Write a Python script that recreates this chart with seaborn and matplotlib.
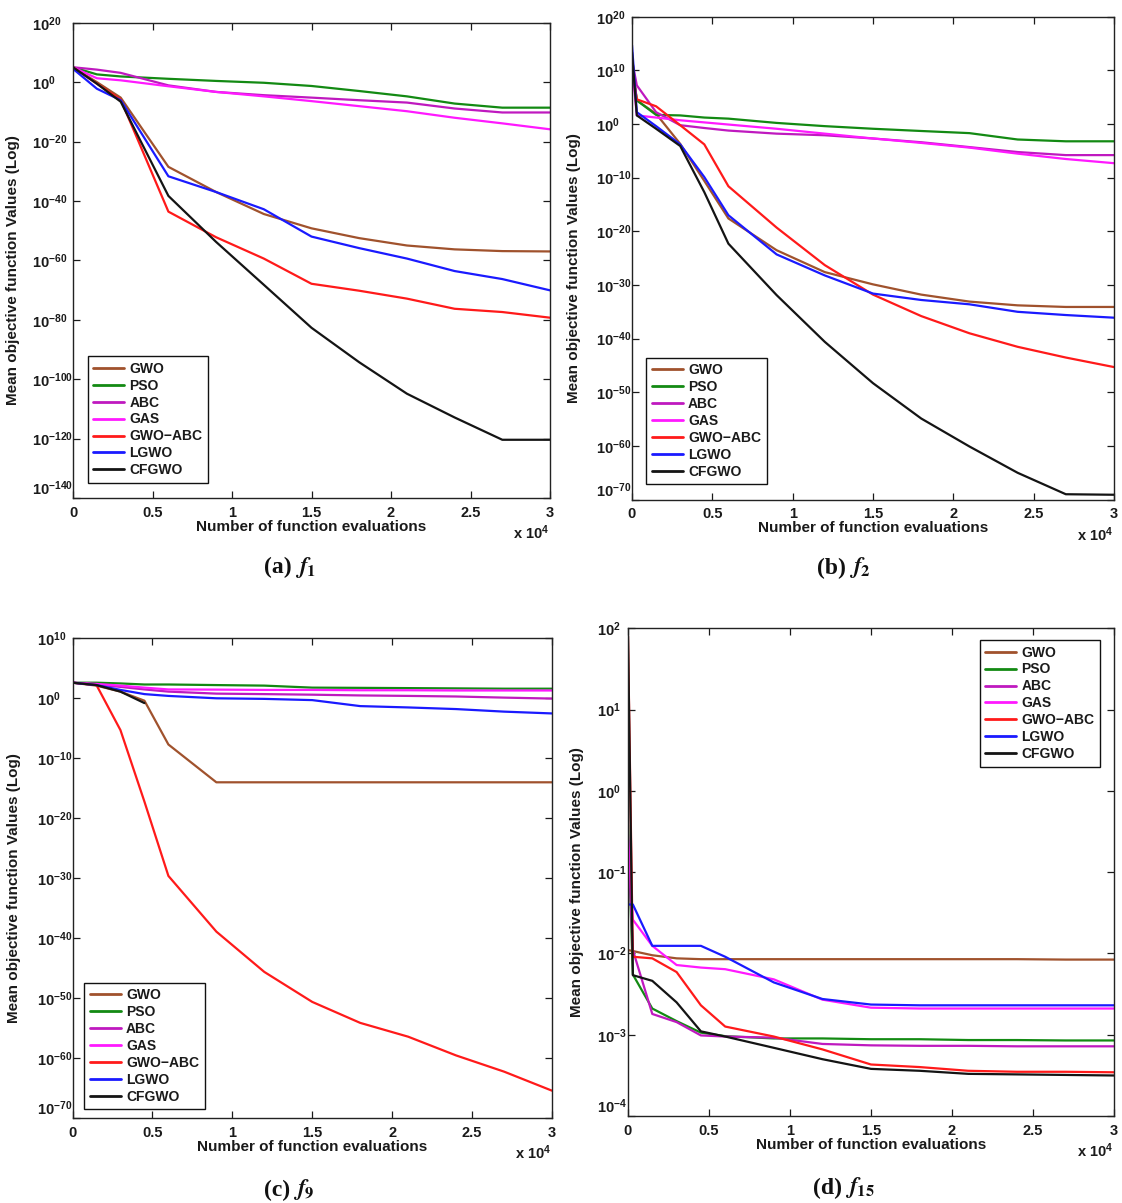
import numpy as np
import pandas as pd
import matplotlib
matplotlib.use("Agg")
import matplotlib.pyplot as plt
from matplotlib.ticker import FixedLocator, FuncFormatter, NullLocator
import seaborn as sns

# ---------------------------------------------------------------- data
METHODS = ["GWO", "PSO", "ABC", "GAS", "GWO\u2212ABC", "LGWO", "CFGWO"]
COLORS = ["#a0522d", "#138a13", "#bf19bf", "#ff19ff", "#ff1a1a", "#1a1aff", "#141414"]

# (a) f1
x_a = [0, 1500, 3000, 6000, 9000, 12000, 15000, 18000, 21000, 24000, 27000, 30000]
a_gwo = [1e5, 1e0, 6e-6, 3e-29, 1e-37, 4e-45, 6e-50, 3e-53, 1e-55, 5e-57, 1.3e-57, 1e-57]
a_pso = [1e5, 4e2, 8e1, 1.3e1, 2.5, 6e-1, 5e-2, 1e-3, 1.6e-5, 6e-8, 2.5e-9, 2.5e-9]
a_abc = [1e5, 1.6e4, 1.3e3, 8e-2, 5e-4, 4e-5, 6e-6, 8e-7, 1.3e-7, 1.3e-9, 6e-11, 6e-11]
a_gas = [1e5, 2e1, 4e0, 4e-2, 5e-4, 1.6e-5, 4e-7, 8e-9, 1.6e-10, 1e-12, 1.3e-14, 1.3e-16]
a_gwoabc = [1e5, 3e-1, 1.3e-6, 2.5e-44, 6e-53, 4e-60, 1.3e-68, 6e-71, 1.3e-73, 5e-77, 4e-78, 5e-80]
a_lgwo = [3e4, 6e-3, 8e-7, 2e-32, 1e-37, 1.6e-43, 1e-52, 1.3e-56, 4e-60, 2.5e-64, 5e-67, 8e-71]
a_cfgwo = [1e5, 3e-1, 2.5e-7, 5e-39, 1.6e-54, 6e-69, 2e-83, 5e-95, 1.3e-105, 1.3e-113, 4e-121, 4e-121]

# (b) f2
x_b = [0, 300, 1500, 3000, 4500, 6000, 9000, 12000, 15000, 18000, 21000, 24000, 27000, 30000]
b_gwo = [1e11, 2.5e4, 8e1, 2e-4, 2.5e-11, 2.5e-18, 3e-24, 2.5e-28, 1.3e-30, 1.6e-32, 8e-34, 1.6e-34, 8e-35, 8e-35]
b_pso = [1e11, 2.5e4, 5e1, 4e1, 1.6e1, 1e1, 1.6e0, 4e-1, 1.3e-1, 5e-2, 2e-2, 1.3e-3, 6e-4, 6e-4]
b_abc = [8e11, 1.6e7, 1.6e2, 6e-1, 1.8e-1, 6e-2, 1.6e-2, 8e-3, 2e-3, 4e-4, 5e-5, 6e-6, 1.6e-6, 1.6e-6]
b_gas = [1e11, 4e1, 1.6e1, 5e0, 2e0, 8e-1, 1.3e-1, 1.6e-2, 2e-3, 3e-4, 4e-5, 3e-6, 3e-7, 5e-8]
b_gwoabc = [1e11, 4e4, 2e3, 6e-1, 1.6e-4, 2.5e-12, 5e-20, 5e-27, 1.6e-32, 1.6e-36, 1e-39, 3e-42, 3e-44, 5e-46]
b_lgwo = [5e14, 1.6e2, 4e-1, 1.6e-4, 1.3e-10, 1e-17, 5e-25, 6e-29, 2.5e-32, 1.6e-33, 2.5e-34, 1e-35, 2.5e-36, 8e-37]
b_cfgwo = [2.5e13, 4e1, 1.3e-1, 8e-5, 2e-13, 5e-23, 1.3e-32, 2.5e-41, 5e-49, 1.3e-55, 8e-61, 1e-65, 1e-69, 8e-70]

# (c) f9  (CFGWO reaches zero after 4500 evaluations)
x_c = [0, 1500, 3000, 4500, 6000, 9000, 12000, 15000, 18000, 21000, 24000, 27000, 30000]
c_gwo = [4e2, 1.3e2, 1.3e1, 4e-1, 2e-8, 1e-14, 1e-14, 1e-14, 1e-14, 1e-14, 1e-14, 1e-14, 1e-14]
c_pso = [4e2, 4e2, 3e2, 2e2, 2e2, 1.6e2, 1.3e2, 6e1, 5.5e1, 5e1, 4.5e1, 4e1, 4e1]
c_abc = [4e2, 2e2, 8e1, 3e1, 1.3e1, 6e0, 5e0, 4e0, 3e0, 2.5e0, 2e0, 1.3e0, 9e-1]
c_gas = [4e2, 2.5e2, 1.3e2, 6e1, 3e1, 2.8e1, 2.5e1, 2.5e1, 2.2e1, 2.2e1, 2e1, 2e1, 2e1]
c_gwoabc = [4e2, 1.6e2, 5e-6, 6e-18, 2.5e-30, 1.3e-39, 2.5e-46, 2.5e-51, 8e-55, 4e-57, 3e-60, 6e-63, 4e-66]
c_lgwo = [4e2, 1.6e2, 2.5e1, 5e0, 2.5e0, 1e0, 8e-1, 5e-1, 5e-2, 3e-2, 1.6e-2, 6e-3, 3e-3]
c_cfgwo = [4e2, 1.6e2, 1.3e1, 1.6e-1]

# (d) f15
x_d = [0, 300, 1500, 3000, 4500, 6000, 9000, 12000, 15000, 18000, 21000, 24000, 27000, 30000]
d_gwo = [1.1e-2, 1.07e-2, 9.5e-3, 8.7e-3, 8.5e-3, 8.5e-3, 8.5e-3, 8.5e-3, 8.5e-3, 8.5e-3, 8.5e-3, 8.5e-3, 8.4e-3, 8.4e-3]
d_pso = [3.8e-1, 5.5e-3, 2.1e-3, 1.47e-3, 1.06e-3, 9.6e-4, 9e-4, 9e-4, 8.8e-4, 8.8e-4, 8.6e-4, 8.6e-4, 8.5e-4, 8.5e-4]
d_abc = [2.5e-1, 1.1e-2, 1.8e-3, 1.43e-3, 9.8e-4, 9.5e-4, 9.2e-4, 7.7e-4, 7.4e-4, 7.3e-4, 7.3e-4, 7.2e-4, 7.2e-4, 7.2e-4]
d_gas = [2.9e-1, 2.6e-2, 1.24e-2, 7.2e-3, 6.7e-3, 6.4e-3, 4.8e-3, 2.7e-3, 2.15e-3, 2.1e-3, 2.1e-3, 2.1e-3, 2.1e-3, 2.1e-3]
d_gwoabc = [8e1, 9.1e-3, 8.7e-3, 5.9e-3, 2.3e-3, 1.26e-3, 9.5e-4, 6.6e-4, 4.3e-4, 4e-4, 3.6e-4, 3.5e-4, 3.5e-4, 3.45e-4]
d_lgwo = [4e-2, 4e-2, 1.24e-2, 1.24e-2, 1.24e-2, 9.1e-3, 4.4e-3, 2.75e-3, 2.35e-3, 2.3e-3, 2.3e-3, 2.3e-3, 2.3e-3, 2.3e-3]
d_cfgwo = [8e1, 5.4e-3, 4.6e-3, 2.5e-3, 1.1e-3, 9.5e-4, 6.9e-4, 5e-4, 3.8e-4, 3.6e-4, 3.3e-4, 3.25e-4, 3.2e-4, 3.15e-4]

X_TICKS = [0, 5000, 10000, 15000, 20000, 25000, 30000]
X_TICK_LABELS = ["0", "0.5", "1", "1.5", "2", "2.5", "3"]

# ---------------------------------------------------------------- style
sns.set_style("ticks")
plt.rcParams["font.family"] = ["Liberation Sans", "DejaVu Sans"]
plt.rcParams["font.weight"] = "bold"
plt.rcParams["mathtext.fontset"] = "custom"
plt.rcParams["mathtext.rm"] = "Liberation Sans:bold"
plt.rcParams["mathtext.bf"] = "Liberation Sans:bold"
plt.rcParams["mathtext.it"] = "Liberation Sans:italic:bold"
plt.rcParams["axes.unicode_minus"] = True
TEXT = "#1a1a1a"

W, H = 1122, 1203
fig = plt.figure(figsize=(W / 100, H / 100), dpi=100)
fig.patch.set_facecolor("white")


def box(l, t, r, b):
    return [l / W, 1 - b / H, (r - l) / W, (b - t) / H]


def draw(rect, x, series, exps, legend_loc, legend_anchor, ylab_x, ypad, tag, sub, cap_xy):
    ax = fig.add_axes(rect)
    frames = []
    for name, vals in zip(METHODS, series):
        frames.append(pd.DataFrame({"evals": x[:len(vals)], "value": vals, "method": name}))
    df = pd.concat(frames, ignore_index=True)
    sns.lineplot(data=df, x="evals", y="value", hue="method", hue_order=METHODS,
                 palette=COLORS, estimator=None, sort=False, linewidth=1.6, ax=ax)
    ax.set_yscale("log")
    ax.set_xlim(0, 30000)
    ax.set_ylim(10.0 ** exps[0], 10.0 ** exps[-1])
    ax.yaxis.set_major_locator(FixedLocator([10.0 ** e for e in exps]))
    ax.yaxis.set_minor_locator(NullLocator())
    ax.yaxis.set_major_formatter(FuncFormatter(
        lambda v, p: r"$\mathbf{10^{%d}}$" % int(round(np.log10(v)))))
    ax.set_xticks(X_TICKS)
    ax.set_xticklabels(X_TICK_LABELS, fontweight="bold")
    ax.tick_params(axis="both", direction="in", top=True, right=True, length=5,
                   width=0.9, labelsize=10.5, colors=TEXT)
    ax.tick_params(axis="y", pad=ypad)
    for lab in ax.get_yticklabels():
        lab.set_horizontalalignment("left")
    # lowest decade label sits a touch higher so it clears the "0" below it
    ax.get_yticklabels()[0].set_verticalalignment("bottom")
    ax.tick_params(axis="x", pad=5.5)
    for s in ax.spines.values():
        s.set_visible(True)
        s.set_linewidth(1.0)
        s.set_color("#222222")
    ax.set_facecolor("white")
    ax.set_xlabel("Number of function evaluations", fontsize=11, fontweight="bold",
                  color=TEXT, labelpad=0)
    ax.set_ylabel("Mean objective function Values (Log)", fontsize=11,
                  fontweight="bold", color=TEXT)
    ax.yaxis.set_label_coords(ylab_x, 0.48)
    ax.annotate(r"$\mathbf{x\ 10^{4}}$", xy=(1.0, 0.0), xycoords="axes fraction",
                xytext=(0, -25), textcoords="offset points", ha="right", va="center",
                fontsize=10.5, color=TEXT)
    handles, labels = ax.get_legend_handles_labels()
    leg = ax.legend(handles, labels, loc=legend_loc, bbox_to_anchor=legend_anchor,
                    borderaxespad=0, frameon=True, fancybox=False, framealpha=1,
                    edgecolor="#111111", fontsize=10, handlelength=2.2,
                    handletextpad=0.4, labelspacing=0.21, borderpad=0.4)
    leg.get_frame().set_linewidth(1.0)
    for ln in leg.get_lines():
        ln.set_linewidth(2.0)
    for t in leg.get_texts():
        t.set_fontweight("bold")
        t.set_color(TEXT)
    # panel caption: bold tag followed by the italic function name
    cx, cy = cap_xy[0] / W, 1 - cap_xy[1] / H
    fig.text(cx - 0.001, cy, tag, fontsize=17, ha="right", va="center",
             family="Liberation Serif", fontweight="bold", color="#111111")
    fig.text(cx + 0.002, cy, r"$f_{%s}$" % sub, fontsize=17, ha="left", va="center",
             math_fontfamily="stix", fontweight="normal", color="#111111")
    return ax


draw(box(73, 22.7, 550, 498), x_a,
     [a_gwo, a_pso, a_abc, a_gas, a_gwoabc, a_lgwo, a_cfgwo],
     list(range(-140, 21, 20)), "lower left", (0.031, 0.032), -0.112, 29.5,
     "(a)", "1", (293, 567))

draw(box(632, 16.7, 1114, 499.6), x_b,
     [b_gwo, b_pso, b_abc, b_gas, b_gwoabc, b_lgwo, b_cfgwo],
     list(range(-70, 21, 10)), "lower left", (0.030, 0.032), -0.105, 26,
     "(b)", "2", (847, 568))

draw(box(72.5, 638.3, 552, 1118.3), x_c,
     [c_gwo, c_pso, c_abc, c_gas, c_gwoabc, c_lgwo, c_cfgwo],
     list(range(-70, 11, 10)), "lower left", (0.025, 0.019), -0.107, 25.7,
     "(c)", "9", (291, 1190))

draw(box(628, 628.3, 1114, 1116), x_d,
     [d_gwo, d_pso, d_abc, d_gas, d_gwoabc, d_lgwo, d_cfgwo],
     list(range(-4, 3, 1)), "upper right", (0.971, 0.976), -0.090, 22,
     "(d)", "15", (843, 1188))

fig.savefig("out.png", dpi=100, facecolor="white")
